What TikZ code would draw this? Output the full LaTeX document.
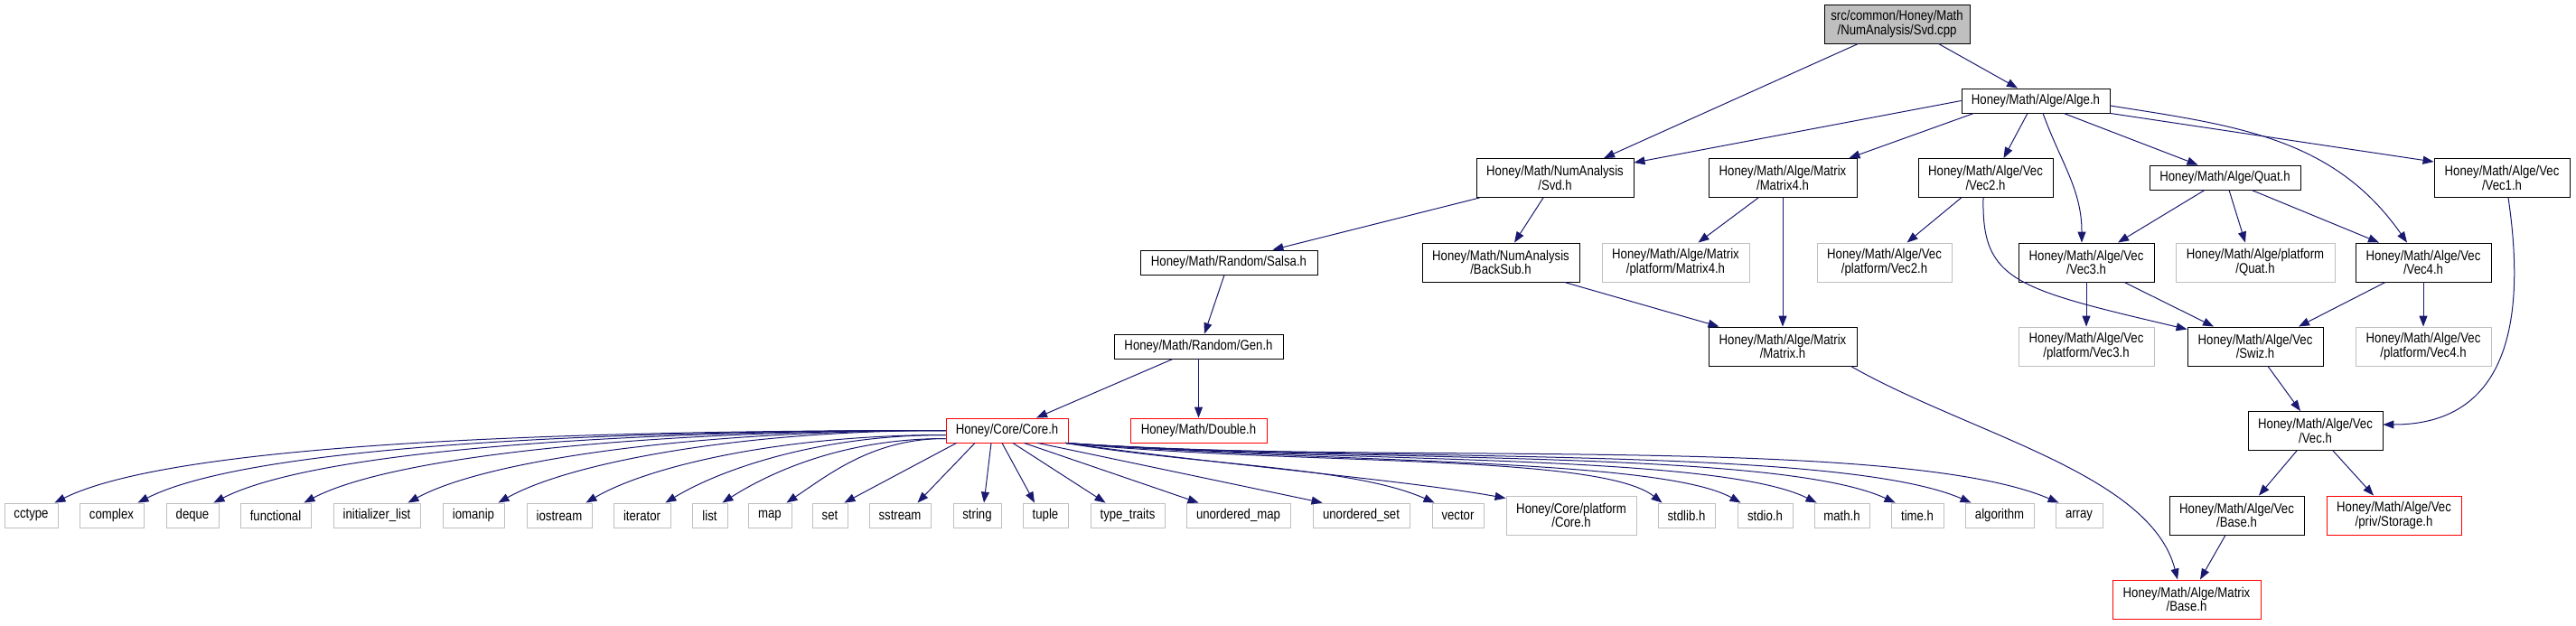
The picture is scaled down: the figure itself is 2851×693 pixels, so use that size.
\documentclass[tikz,border=0pt]{standalone}
\usepackage{fontspec}
\setmainfont[FakeStretch=0.85]{Liberation Sans}
\usetikzlibrary{arrows.meta}
\definecolor{edgeblue}{HTML}{191970}
\definecolor{sysgray}{HTML}{BFBFBF}

\tikzset{
  hdr/.style={draw=black, line width=0.9pt, inner sep=0pt, align=center},
  sys/.style={hdr, draw=sysgray},
  trunc/.style={hdr, draw=red},
  rootfile/.style={hdr, fill=sysgray},
  sz/.style 2 args={minimum width=#1pt, minimum height=#2pt},
  dep/.style={draw=edgeblue, line width=1pt, -{Triangle[length=12pt, width=9pt]}},
}

\begin{document}
\begin{tikzpicture}[x=1pt, y=-1pt, font=\fontsize{15.5}{14}\selectfont]
    \useasboundingbox (0,0) rectangle (2851,693);

    % Top: the file and its direct includes
    \node[rootfile, sz={161}{43}] (root) at (2099.5,26.5) {src/common/Honey/Math\\/NumAnalysis/Svd.cpp};
    \node[hdr, sz={164}{27}] (alge) at (2253,111.5) {Honey/Math/Alge/Alge.h};
    \node[hdr, sz={174}{43}] (svd) at (1721,197) {Honey/Math/NumAnalysis\\/Svd.h};
    \node[hdr, sz={164}{43}] (mat4) at (1973,197) {Honey/Math/Alge/Matrix\\/Matrix4.h};
    \node[hdr, sz={149}{43}] (vec2) at (2197.5,197) {Honey/Math/Alge/Vec\\/Vec2.h};
    \node[hdr, sz={167}{27}] (quat) at (2462.5,196.5) {Honey/Math/Alge/Quat.h};
    \node[hdr, sz={150}{43}] (vec1) at (2769,197) {Honey/Math/Alge/Vec\\/Vec1.h};

    % Third row
    \node[hdr, sz={196}{27}] (salsa) at (1360,290.5) {Honey/Math/Random/Salsa.h};
    \node[hdr, sz={174}{43}] (backsub) at (1661,290.5) {Honey/Math/NumAnalysis\\/BackSub.h};
    \node[sys, sz={163}{43}] (pmat4) at (1854.5,290.5) {Honey/Math/Alge/Matrix\\/platform/Matrix4.h};
    \node[sys, sz={149}{43}] (pvec2) at (2085.5,290.5) {Honey/Math/Alge/Vec\\/platform/Vec2.h};
    \node[hdr, sz={150}{43}] (vec3) at (2309,290.5) {Honey/Math/Alge/Vec\\/Vec3.h};
    \node[sys, sz={176}{43}] (pquat) at (2496,290.5) {Honey/Math/Alge/platform\\/Quat.h};
    \node[hdr, sz={150}{43}] (vec4) at (2682,290.5) {Honey/Math/Alge/Vec\\/Vec4.h};

    % Fourth row
    \node[hdr, sz={187}{27}] (gen) at (1326.5,383.5) {Honey/Math/Random/Gen.h};
    \node[hdr, sz={164}{43}] (matrix) at (1973,383.5) {Honey/Math/Alge/Matrix\\/Matrix.h};
    \node[sys, sz={150}{43}] (pvec3) at (2309,383.5) {Honey/Math/Alge/Vec\\/platform/Vec3.h};
    \node[hdr, sz={150}{43}] (swiz) at (2496,383.5) {Honey/Math/Alge/Vec\\/Swiz.h};
    \node[sys, sz={150}{43}] (pvec4) at (2682,383.5) {Honey/Math/Alge/Vec\\/platform/Vec4.h};

    % Fifth row
    \node[trunc, sz={135}{27}] (core) at (1114.5,476.5) {Honey/Core/Core.h};
    \node[trunc, sz={151}{27}] (double) at (1326.5,476.5) {Honey/Math/Double.h};
    \node[hdr, sz={149}{43}] (vec) at (2562.5,477) {Honey/Math/Alge/Vec\\/Vec.h};

    % System headers
    \node[sys, sz={59}{27}] (cctype) at (34.5,570.5) {cctype};
    \node[sys, sz={71}{27}] (complex) at (123.5,570.5) {complex};
    \node[sys, sz={58}{27}] (deque) at (213,570.5) {deque};
    \node[sys, sz={78}{27}] (functional) at (305,570.5) {functional};
    \node[sys, sz={96}{27}] (initlist) at (417,570.5) {initializer\_list};
    \node[sys, sz={68}{27}] (iomanip) at (524,570.5) {iomanip};
    \node[sys, sz={72}{27}] (iostream) at (619,570.5) {iostream};
    \node[sys, sz={63}{27}] (iterator) at (710.5,570.5) {iterator};
    \node[sys, sz={39}{27}] (list) at (785.5,570.5) {list};
    \node[sys, sz={48}{27}] (map) at (852,570.5) {map};
    \node[sys, sz={39}{27}] (set) at (918.5,570.5) {set};
    \node[sys, sz={68}{27}] (sstream) at (996,570.5) {sstream};
    \node[sys, sz={53}{27}] (string) at (1081.5,570.5) {string};
    \node[sys, sz={50}{27}] (tuple) at (1157,570.5) {tuple};
    \node[sys, sz={82}{27}] (ttraits) at (1248,570.5) {type\_traits};
    \node[sys, sz={115}{27}] (umap) at (1370.5,570.5) {unordered\_map};
    \node[sys, sz={107}{27}] (uset) at (1506.5,570.5) {unordered\_set};
    \node[sys, sz={57}{27}] (vector) at (1613.5,570.5) {vector};
    \node[sys, sz={144}{43}] (pcore) at (1739,570.5) {Honey/Core/platform\\/Core.h};
    \node[sys, sz={63}{27}] (stdlib) at (1866.5,570.5) {stdlib.h};
    \node[sys, sz={61}{27}] (stdio) at (1953.5,570.5) {stdio.h};
    \node[sys, sz={61}{27}] (mathh) at (2038.5,570.5) {math.h};
    \node[sys, sz={58}{27}] (timeh) at (2122,570.5) {time.h};
    \node[sys, sz={76}{27}] (algo) at (2213,570.5) {algorithm};
    \node[sys, sz={52}{27}] (arr) at (2301,570.5) {array};

    % Bottom right
    \node[hdr, sz={149}{43}] (vecbase) at (2475.5,570.5) {Honey/Math/Alge/Vec\\/Base.h};
    \node[trunc, sz={149}{43}] (storage) at (2649.5,570.5) {Honey/Math/Alge/Vec\\/priv/Storage.h};
    \node[trunc, sz={164}{43}] (matbase) at (2420,663.5) {Honey/Math/Alge/Matrix\\/Base.h};

    % Svd.cpp
    \draw[dep] ([xshift=38pt]root.south west) -- ([xshift=54pt]svd.north);
    \draw[dep] ([xshift=-35pt]root.south east) -- ([xshift=-20pt]alge.north);

    % Alge.h
    \draw[dep] (alge.west) -- ([yshift=-5pt]svd.north east);
    \draw[dep] ([xshift=14pt]alge.south west) -- ([xshift=-9pt]mat4.north east);
    \draw[dep] ([xshift=-9pt]alge.south) -- ([xshift=20pt]vec2.north);
    \draw[dep] ([xshift=8pt]alge.south) .. controls +(20,55) and +(0,-59) .. ([xshift=-5pt]vec3.north);
    \draw[dep] ([xshift=31pt]alge.south) -- ([xshift=-30pt]quat.north);
    \draw[dep] ([yshift=-5.5pt]alge.east) .. controls +(140,22) and +(-81,-116) .. ([xshift=-18pt]vec4.north);
    \draw[dep] (alge.south east) -- ([yshift=-4pt]vec1.north west);

    % Svd.h, Matrix4.h, Vec2.h
    \draw[dep] ([xshift=4pt]svd.south west) -- ([xshift=-50pt]salsa.north east);
    \draw[dep] ([xshift=-13pt]svd.south) -- ([xshift=15pt]backsub.north);
    \draw[dep] ([xshift=-27pt]mat4.south) -- ([xshift=25pt]pmat4.north);
    \draw[dep] (mat4.south) -- (matrix.north);
    \draw[dep] ([xshift=48pt]vec2.south west) -- ([xshift=25pt]pvec2.north);
    \draw[dep] ([xshift=-2.5pt]vec2.south) .. controls +(-2,92) and +(-191,-45) .. ([yshift=-3pt]swiz.north west);

    % Quat.h, Vec1.h
    \draw[dep] ([xshift=-22.5pt]quat.south) -- ([xshift=35pt]vec3.north);
    \draw[dep] ([xshift=4.5pt]quat.south) -- ([xshift=-11pt]pquat.north);
    \draw[dep] ([xshift=29.5pt]quat.south) -- ([xshift=-49pt]vec4.north);
    \draw[dep] ([xshift=7pt]vec1.south) .. controls +(24,162) and +(123,0) .. ([yshift=7pt]vec.east);

    % Vec3.h, Vec4.h, BackSub.h
    \draw[dep] (vec3.south) -- (pvec3.north);
    \draw[dep] ([xshift=42pt]vec3.south) -- ([xshift=-46pt]swiz.north);
    \draw[dep] ([xshift=-42pt]vec4.south) -- ([xshift=48pt]swiz.north);
    \draw[dep] (vec4.south) -- (pvec4.north);
    \draw[dep] ([xshift=-17pt]backsub.south east) -- ([xshift=12pt]matrix.north west);

    % Salsa.h, Gen.h
    \draw[dep] ([xshift=-5pt]salsa.south) -- ([xshift=6.5pt]gen.north);
    \draw[dep] ([xshift=-28.5pt]gen.south) -- ([xshift=32.5pt]core.north);
    \draw[dep] (gen.south) -- (double.north);

    % Matrix.h, Swiz.h, Vec.h, Base.h
    \draw[dep] ([xshift=-7pt]matrix.south east) .. controls +(132,75) and +(-30,-117) .. ([xshift=-10pt]matbase.north);
    \draw[dep] ([xshift=14pt]swiz.south) -- ([xshift=-16.5pt]vec.north);
    \draw[dep] ([xshift=-20.5pt]vec.south) -- ([xshift=24.5pt]vecbase.north);
    \draw[dep] ([xshift=19.5pt]vec.south) -- ([xshift=-22.5pt]storage.north);
    \draw[dep] ([xshift=-12.5pt]vecbase.south) -- ([xshift=15pt]matbase.north);

    % Core.h to the left
    \draw[dep] (core.west) .. controls +(-444,0) and +(129,-64) .. ([xshift=-4pt]cctype.north east);
    \draw[dep] (core.west) .. controls +(-403,0) and +(120,-61) .. ([xshift=-7pt]complex.north east);
    \draw[dep] (core.west) .. controls +(-365,0) and +(111,-57) .. ([xshift=-6pt]deque.north east);
    \draw[dep] (core.west) .. controls +(-320,0) and +(101,-53) .. ([xshift=-8pt]functional.north east);
    \draw[dep] (core.west) .. controls +(-268,0) and +(90,-49) .. ([xshift=-14pt]initlist.north east);
    \draw[dep] (core.west) .. controls +(-223,0) and +(80,-45) .. ([xshift=-7pt]iomanip.north east);
    \draw[dep] ([yshift=-5pt]core.west) .. controls +(-180,0) and +(70,-41) .. ([xshift=-7pt]iostream.north east);
    \draw[dep] ([yshift=-5pt]core.west) .. controls +(-140,0) and +(61,-37) .. ([xshift=-6pt]iterator.north east);
    \draw[dep] ([yshift=-9pt]core.west) .. controls +(-111,0) and +(55,-35) .. ([xshift=-6pt]list.north east);
    \draw[dep] ([yshift=-9pt]core.west) .. controls +(-80,0) and +(48,-32) .. ([xshift=-6pt]map.north east);

    % Core.h downwards
    \draw[dep] ([xshift=12pt]core.south west) -- ([xshift=-4pt]set.north east);
    \draw[dep] ([xshift=-35.5pt]core.south) -- ([xshift=-15pt]sstream.north east);
    \draw[dep] ([xshift=-17.5pt]core.south) -- ([xshift=7.5pt]string.north);
    \draw[dep] ([xshift=-5.5pt]core.south) -- ([xshift=-12pt]tuple.north);
    \draw[dep] ([xshift=6.5pt]core.south) -- ([xshift=17pt]ttraits.north west);
    \draw[dep] ([xshift=-49pt]core.south east) -- ([xshift=14pt]umap.north west);
    \draw[dep] ([xshift=-34pt]core.south east) -- ([xshift=11pt]uset.north west);

    % Core.h to the right
    \draw[dep] ([xshift=-3pt]core.south east) .. controls +(150,25) and +(-90,-40) .. ([xshift=3pt]vector.north west);
    \draw[dep] ([xshift=-3pt]core.south east) .. controls +(180,25) and +(-110,-20) .. ([yshift=-3pt]pcore.north west);
    \draw[dep] ([xshift=-3pt]core.south east) .. controls +(250,25) and +(-70,-55) .. ([xshift=5pt]stdlib.north west);
    \draw[dep] ([xshift=-3pt]core.south east) .. controls +(280,22) and +(-90,-50) .. ([xshift=4pt]stdio.north west);
    \draw[dep] ([xshift=-3pt]core.south east) .. controls +(300,22) and +(-110,-55) .. ([xshift=3pt]mathh.north west);
    \draw[dep] ([xshift=-3pt]core.south east) .. controls +(320,22) and +(-130,-60) .. ([xshift=5pt]timeh.north west);
    \draw[dep] ([xshift=-3pt]core.south east) .. controls +(320,22) and +(-150,-65) .. ([xshift=7pt]algo.north west);
    \draw[dep] ([xshift=-3pt]core.south east) .. controls +(320,25) and +(-180,-77) .. ([xshift=4pt]arr.north west);
\end{tikzpicture}
\end{document}
